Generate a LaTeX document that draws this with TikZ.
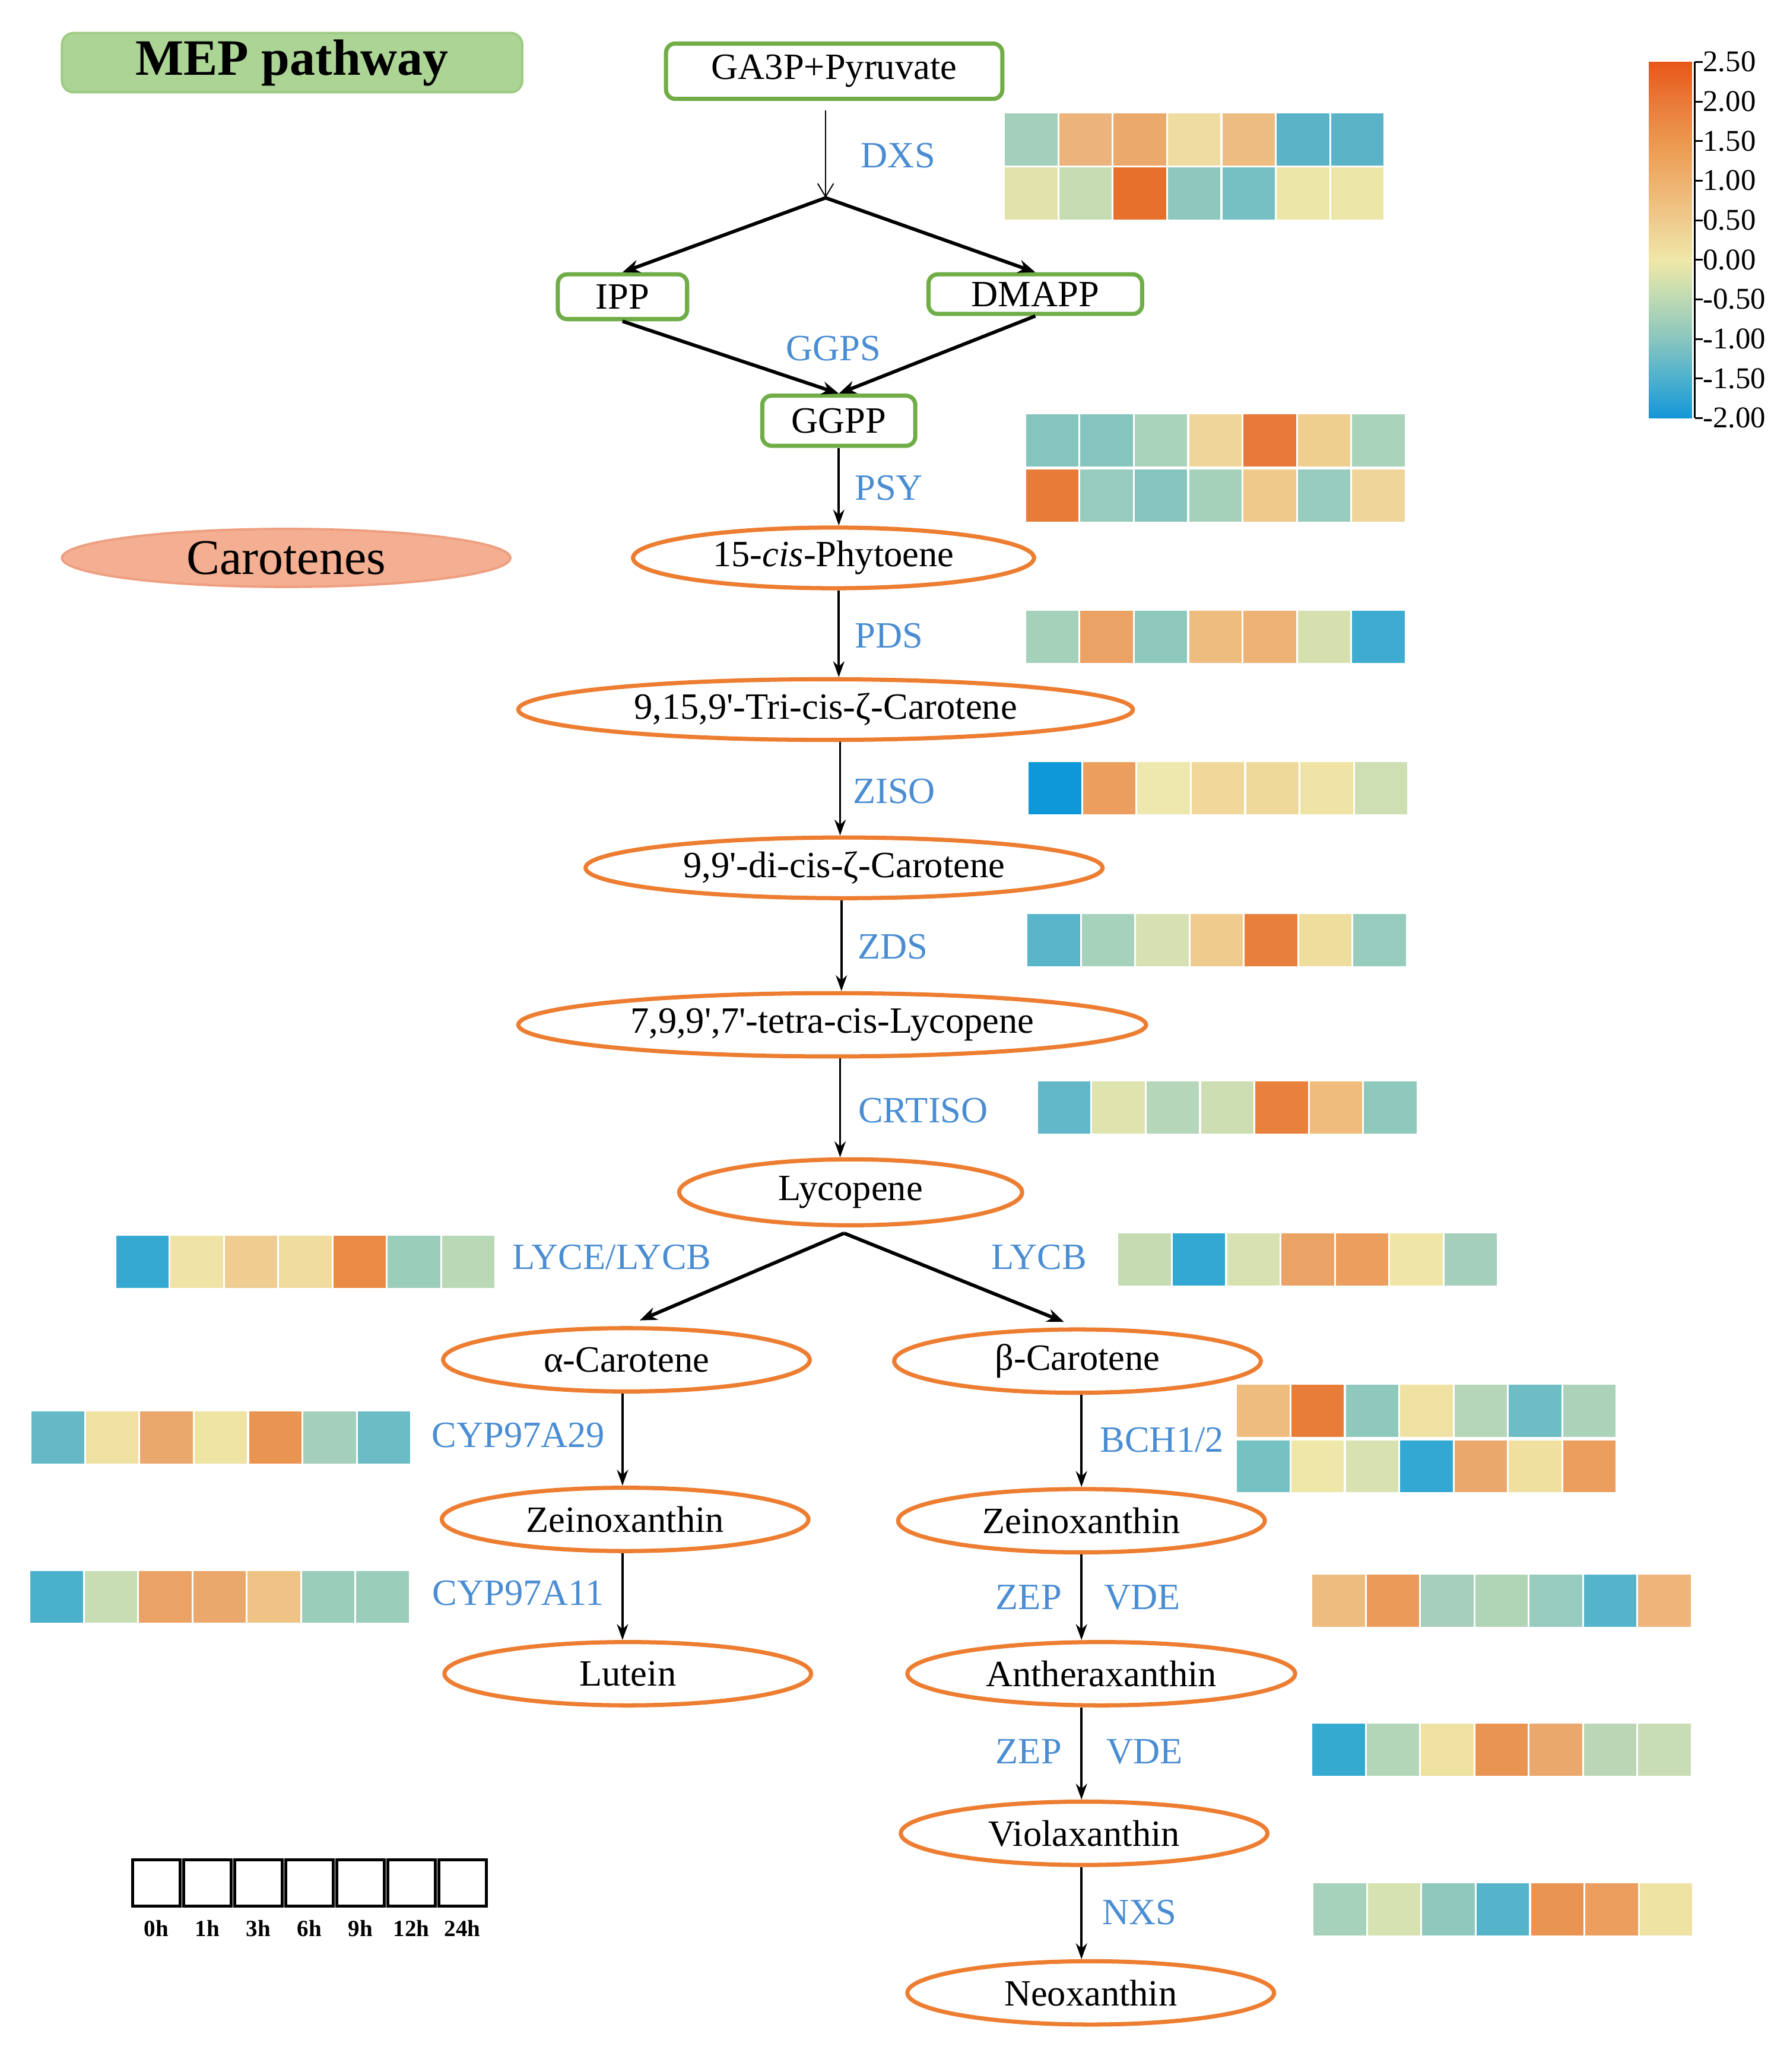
\documentclass[tikz,border=0pt]{standalone}
\usepackage{fontspec}
\setmainfont{Liberation Serif}[Ligatures=TeXOff]
\usetikzlibrary{arrows.meta,shapes.geometric}
\definecolor{grn}{HTML}{70AD47}
\definecolor{org}{HTML}{ED7D31}
\definecolor{enz}{HTML}{4A8DD2}
\definecolor{mepfill}{HTML}{ABD495}
\definecolor{mepdraw}{HTML}{9CCB82}
\definecolor{carfill}{HTML}{F4AE91}
\definecolor{cardraw}{HTML}{EE9F80}
\definecolor{cbc0}{HTML}{E8581A}
\definecolor{cbc1}{HTML}{EA7A38}
\definecolor{cbc2}{HTML}{EC984F}
\definecolor{cbc3}{HTML}{EEB26F}
\definecolor{cbc4}{HTML}{EFCB8E}
\definecolor{cbc5}{HTML}{EFE8A8}
\definecolor{cbc6}{HTML}{BCD9B4}
\definecolor{cbc7}{HTML}{88C5BF}
\definecolor{cbc8}{HTML}{4CB0CE}
\definecolor{cbc9}{HTML}{1296D8}
\newcommand\hmrow[3]{%
  \foreach \cc [count=\ii from 0] in {#3} {%
    \edef\tmpdef{\noexpand\definecolor{hmc}{HTML}{\cc}}\tmpdef
    \fill[hmc] ({#1+\ii*41.2},#2) rectangle ++(39.8,39.5);
  }}
\begin{document}
\begin{tikzpicture}[x=0.02cm, y=-0.02cm,
  gbox/.style 2 args={draw=grn, line width=1.8pt, rounded corners=4pt, fill=white,
    minimum width=#1*0.02cm, minimum height=#2*0.02cm, inner sep=0pt,
    font=\fontsize{16}{19}\selectfont},
  oell/.style 2 args={ellipse, draw=org, line width=1.8pt, fill=white,
    minimum width=#1*0.02cm, minimum height=#2*0.02cm, inner sep=0pt,
    font=\fontsize{16}{19}\selectfont},
  enzl/.style={text=enz, font=\fontsize{16}{19}\selectfont, inner sep=0pt},
  arr/.style={-{Stealth[length=0.24cm,width=0.17cm]}, line width=1pt},
  darr/.style={-{Stealth[length=0.26cm,width=0.2cm]}, line width=1.5pt},
  tarr/.style={-{Straight Barb[length=0.2cm,width=0.24cm]}, line width=0.5pt}]
\fill[white] (0,0) rectangle (1357,1571);
\useasboundingbox (0,0) rectangle (1357,1571);

% headers
\node[draw=mepdraw, fill=mepfill, line width=1pt, rounded corners=5pt,
  minimum width=349*0.02cm, minimum height=45*0.02cm, inner sep=0pt,
  font=\bfseries\fontsize{22}{26}\selectfont] (mep) at (221.5,47.5) {MEP pathway};
\node[ellipse, draw=cardraw, fill=carfill, line width=1pt,
  minimum width=340*0.02cm, minimum height=44*0.02cm, inner sep=0pt,
  font=\fontsize{21.5}{25}\selectfont] (car) at (217,423) {Carotenes};

% metabolites
\node[gbox={255}{42}] (ga3p) at (632.5,54) {GA3P+Pyruvate};
\coordinate (s) at (626,150);
\node[gbox={98}{34}] (ipp) at (472,225) {IPP};
\node[gbox={162}{30}] (dmapp) at (785,223) {DMAPP};
\node[gbox={116}{38}] (ggpp) at (636,319) {GGPP};
\node[oell={304}{46}] (phyt) at (632,423) {15-\textit{cis}-Phytoene};
\node[oell={466}{46}] (tri) at (626,538) {9,15,9'-Tri-cis-ζ-Carotene};
\node[oell={392}{46}] (dicis) at (640,658) {9,9'-di-cis-ζ-Carotene};
\node[oell={476}{48}] (tetra) at (631,777) {7,9,9',7'-tetra-cis-Lycopene};
\node[oell={260}{50}] (lyc) at (645,904) {Lycopene};
\coordinate (lsplit) at (640,935);
\node[oell={278}{48}] (alpha) at (475,1031) {α-Carotene};
\node[oell={278}{48}] (beta) at (817,1032) {β-Carotene};
\node[oell={278}{48}] (zeiL) at (474,1152) {Zeinoxanthin};
\node[oell={278}{48}] (zeiR) at (820,1153) {Zeinoxanthin};
\node[oell={278}{48}] (lut) at (476,1269) {Lutein};
\node[oell={294}{48}] (anth) at (835,1269) {Antheraxanthin};
\node[oell={278}{48}] (viola) at (822,1390) {Violaxanthin};
\node[oell={278}{48}] (neo) at (827,1511) {Neoxanthin};

% connectors
\draw[tarr, shorten <=4pt] (s |- ga3p.south) -- (s);
\draw[darr] (s) -- (ipp.north);
\draw[darr] (s) -- (dmapp.north);
\draw[darr] (ipp.south) -- (ggpp.north);
\draw[darr] (dmapp.south) -- (ggpp.north);
\draw[arr] (ggpp.south) -- (ggpp.south |- phyt.north);
\draw[arr] ([xshift=0.08cm]phyt.south) -- ([xshift=0.08cm]phyt.south |- tri.north);
\draw[arr] ([xshift=0.22cm]tri.south) -- ([xshift=0.22cm]tri.south |- dicis.north);
\draw[arr] ([xshift=-0.04cm]dicis.south) -- ([xshift=-0.04cm]dicis.south |- tetra.north);
\draw[arr] ([xshift=0.12cm]tetra.south) -- ([xshift=0.12cm]tetra.south |- lyc.north);
\draw[darr, shorten >=0.22cm] (lsplit) -- (alpha.north);
\draw[darr, shorten >=0.22cm] (lsplit) -- (beta.north);
\draw[arr] ([xshift=-0.06cm]alpha.south) -- ([xshift=-0.06cm]alpha.south |- zeiL.north);
\draw[arr] ([xshift=-0.04cm]zeiL.south) -- ([xshift=-0.04cm]zeiL.south |- lut.north);
\draw[arr] ([xshift=0.06cm]beta.south) -- ([xshift=0.06cm]beta.south |- zeiR.north);
\draw[arr] (zeiR.south) -- (zeiR.south |- anth.north);
\draw[arr] ([xshift=-0.3cm]anth.south) -- ([xshift=-0.3cm]anth.south |- viola.north);
\draw[arr] ([xshift=-0.04cm]viola.south) -- ([xshift=-0.04cm]viola.south |- neo.north);

% enzyme labels
\node[enzl] (eDXS) at (681,118) {DXS};
\node[enzl] (eGGPS) at (632,264) {GGPS};
\node[enzl] (ePSY) at (674,370) {PSY};
\node[enzl] (ePDS) at (674,482) {PDS};
\node[enzl] (eZISO) at (678,600) {ZISO};
\node[enzl] (eZDS) at (677,718) {ZDS};
\node[enzl] (eCRT) at (700,842) {CRTISO};
\node[enzl] (eLYCE) at (464,953) {LYCE/LYCB};
\node[enzl] (eLYCB) at (788,953) {LYCB};
\node[enzl] (eC29) at (393,1088) {CYP97A29};
\node[enzl] (eBCH) at (881,1092) {BCH1/2};
\node[enzl] (eC11) at (393,1208) {CYP97A11};
\node[enzl] (eZEPa) at (780,1211) {ZEP};
\node[enzl] (eVDEa) at (866,1211) {VDE};
\node[enzl] (eZEPb) at (780,1328) {ZEP};
\node[enzl] (eVDEb) at (868,1328) {VDE};
\node[enzl] (eNXS) at (864,1450) {NXS};

% heatmaps
\hmrow{762}{86}{A3CFBB,EDB37C,EBA96C,EFDCA0,EDBC80,5BB3C8,5BB3C8}
\hmrow{762}{127}{E2E3AA,C6DCB3,E8702D,8EC7BD,74C0C3,ECE6A8,ECE6A8}
\hmrow{778}{314}{86C5BE,85C5BE,A9D3BB,EFD59A,E8793A,EFCF90,A9D3BB}
\hmrow{778}{356}{E87B38,96CBBD,85C5BE,A5D1BB,EFC98A,96CBBD,EFD59A}
\hmrow{778}{463}{A5D1BB,EBA265,8FC9BD,EFBC80,EEB276,D6E0AF,3FABD0}
\hmrow{780}{578}{0E97D9,EB9E5E,EEE8AE,EFD89A,EFD99A,EFE4A6,CFDFB4}
\hmrow{779}{693}{58B5CA,A6D2BB,D6E0B2,EFCB8E,E87F3C,EFDD9E,96CBBD}
\hmrow{787}{820}{62B8C8,DFE3AE,B5D6B8,CDDEB3,E8803E,EFBC7E,8FC9BD}
\hmrow{88}{937}{35A9D1,EFE3A6,EFCD90,EFDC9E,EA8A45,9BCDBB,B9D8B5}
\hmrow{848}{935}{C5DCB3,32A8D2,D8E2B0,EBA265,EB9E5E,EFE5A6,A3CFBB}
\hmrow{24}{1070}{65B9C7,EFE1A2,EBA86C,EFE4A4,EA9452,A3CFBB,6BBCC4}
\hmrow{938}{1050}{EFBC80,E87D3A,8FC8BD,EFE1A2,B5D6B8,6FBDC4,ABD3BA}
\hmrow{938}{1092}{76C2C3,EEE7A8,D8E2B0,32A8D2,EBA86C,EFE0A0,EB9E5E}
\hmrow{23}{1191}{4AB1CC,C9DDB4,EBA265,EBA86C,EFC386,9BCDBB,9BCDBB}
\hmrow{995}{1194}{EFBC80,EB9A5A,A6D0BB,B0D5B6,96CBBD,55B3CA,EFB47A}
\hmrow{995}{1307}{35AAD1,B3D6B8,EFE1A2,EA9452,EBA86C,BAD6B4,C8DDB5}
\hmrow{996}{1428}{A6D2BB,D6E2B0,8FC9BD,55B3CA,EA9452,EB9E5E,EFE3A4}

% colour bar
\foreach \ca/\cb [count=\k from 0] in {cbc0/cbc1,cbc1/cbc2,cbc2/cbc3,cbc3/cbc4,cbc4/cbc5,cbc5/cbc6,cbc6/cbc7,cbc7/cbc8,cbc8/cbc9} {
  \foreach \j in {0,...,14} {
    \pgfmathtruncatemacro\pp{100-\j*100/15}
    \fill[\ca!\pp!\cb] (1250,{47+\k*30+\j*2}) rectangle ++(33,2.3);
  }
}
\draw[line width=1pt] (1285,47) -- (1285,317);
\foreach \v [count=\k from 0] in {2.50,2.00,1.50,1.00,0.50,0.00,-0.50,-1.00,-1.50,-2.00} {
  \draw[line width=0.8pt] (1285,{47+\k*30}) -- ++(6,0);
  \node[anchor=west, inner sep=0pt, font=\fontsize{13}{15}\selectfont] (cbl\k) at (1291,{47+\k*30}) {\v};
}

% legend
\foreach \i/\t in {0/0h,1/1h,2/3h,3/6h,4/9h,5/12h,6/24h} {
  \node[draw, line width=1.3pt, minimum width=36*0.02cm, minimum height=35*0.02cm, inner sep=0pt] (sq\i) at ({118.5+\i*38.7},1427.5) {};
  \node[inner sep=0pt, font=\bfseries\fontsize{10}{12}\selectfont] (lg\i) at ({118.5+\i*38.7},1462) {\t};
}
\end{tikzpicture}
\end{document}
